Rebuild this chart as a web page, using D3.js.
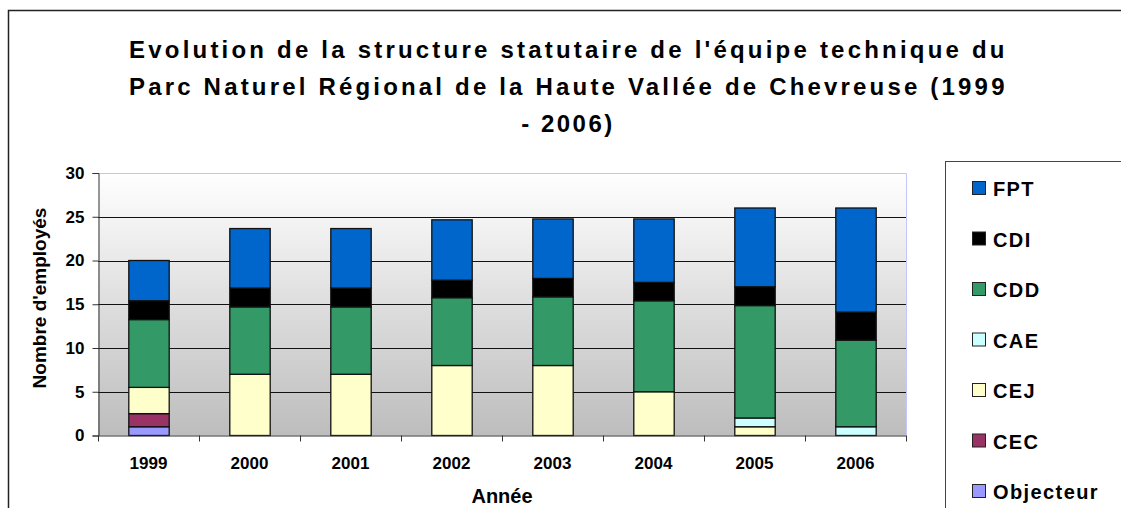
<!DOCTYPE html>
<html>
<head>
<meta charset="utf-8">
<script src="https://cdn.jsdelivr.net/npm/d3@7"></script>
<style>
  body { margin: 0; background: #fff; }
  svg { display: block; font-family: "Liberation Sans", Arial, sans-serif; font-weight: bold; }
</style>
</head>
<body>
<div id="graphe"></div>
<script>
// donnees
var annees = ["1999", "2000", "2001", "2002", "2003", "2004", "2005", "2006"];
var statuts = ["Objecteur", "CEC", "CEJ", "CAE", "CDD", "CDI", "FPT"];
var objecteur = [1, 0, 0, 0, 0, 0, 0, 0];
var cec = [1.5, 0, 0, 0, 0, 0, 0, 0];
var cej = [3, 7, 7, 8, 8, 5, 1, 0];
var cae = [0, 0, 0, 0, 0, 0, 1, 1];
var cdd = [7.75, 7.7, 7.7, 7.75, 7.85, 10.4, 12.85, 9.9];
var cdi = [2.15, 2.15, 2.15, 2, 2.1, 2.1, 2.15, 3.2];
var fpt = [4.6, 6.8, 6.8, 6.9, 6.8, 7.25, 9, 11.9];
var ticksY = [0, 5, 10, 15, 20, 25, 30];
var couleurs = ["#9999ff", "#993366", "#ffffcc", "#ccffff", "#339966", "#000000", "#0066cc"];

var largeur = 1121, hauteur = 508;
var marge = {haut: 173, gauche: 98, droite: 906, bas: 435.5};

var svg = d3.select("#graphe").append("svg").attr("width", largeur).attr("height", hauteur);

// cadre general
svg.append("rect").attr("x", 8.5).attr("y", 10.5).attr("width", 1130).attr("height", 520)
  .attr("fill", "#fff").attr("stroke", "#222").attr("stroke-width", 1.5);

// tableau pour d3.stack
var series = [objecteur, cec, cej, cae, cdd, cdi, fpt];
var table = annees.map(function(a, i) {
  var ligne = {annee: a};
  statuts.forEach(function(s, j) { ligne[s] = series[j][i]; });
  return ligne;
});
var pile = d3.stack().keys(statuts)(table);

var x = d3.scaleBand().domain(annees).range([marge.gauche, marge.droite]).paddingInner(0.6).paddingOuter(0.3);
var y = d3.scaleLinear().domain([0, 30]).range([marge.bas, marge.haut]);
var couleur = d3.scaleOrdinal().domain(statuts).range(couleurs);

// fond degrade
var defs = svg.append("defs");
var deg = defs.append("linearGradient").attr("id", "fond").attr("x1", 0).attr("y1", 0).attr("x2", 0).attr("y2", 1);
deg.append("stop").attr("offset", "0%").attr("stop-color", "#ffffff");
deg.append("stop").attr("offset", "100%").attr("stop-color", "#bdbdbd");

svg.append("rect").attr("x", marge.gauche).attr("y", marge.haut)
  .attr("width", marge.droite - marge.gauche).attr("height", marge.bas - marge.haut)
  .attr("fill", "url(#fond)");

// bord haut et droit (lavande)
svg.append("path")
  .attr("d", "M" + marge.gauche + "," + (marge.haut + 0.5) + "H" + (marge.droite + 0.5) + "V" + marge.bas)
  .attr("fill", "none").attr("stroke", "#c4c4ff").attr("stroke-width", 1);

// grille
svg.append("g").selectAll("line").data(ticksY.filter(function(t) { return t > 0 && t < 30; }))
  .enter().append("line")
  .attr("x1", marge.gauche).attr("x2", marge.droite)
  .attr("y1", function(d) { return Math.round(y(d)) + 0.5; })
  .attr("y2", function(d) { return Math.round(y(d)) + 0.5; })
  .attr("stroke", "#111").attr("stroke-width", 1);

// barres empilees
svg.append("g").selectAll("g").data(pile).enter().append("g")
  .attr("fill", function(d) { return couleur(d.key); })
  .selectAll("rect").data(function(d) { return d; }).enter().append("rect")
  .filter(function(d) { return d[1] - d[0] > 0; })
  .attr("x", function(d) { return x(d.data.annee) + 0.5; })
  .attr("width", x.bandwidth())
  .attr("y", function(d) { return y(d[1]); })
  .attr("height", function(d) { return y(d[0]) - y(d[1]); })
  .attr("stroke", "#111").attr("stroke-width", 1.3);

// axe Y
var axeY = d3.axisLeft(y).tickValues(ticksY).tickSize(6).tickPadding(8);
var gY = svg.append("g").attr("transform", "translate(" + (marge.gauche + 0.5) + ",0)").call(axeY);
gY.select(".domain").attr("stroke", "#333");
gY.selectAll(".tick line").attr("stroke", "#333");
gY.selectAll("text").attr("font-size", 17).attr("font-family", null).attr("fill", "#000");

// axe X : graduations aux limites des categories
var pas = x.step();
var bornes = annees.map(function(a) { return x(a) + x.bandwidth() / 2 - pas / 2; });
bornes.push(marge.droite);
svg.append("line").attr("x1", marge.gauche).attr("x2", marge.droite)
  .attr("y1", marge.bas + 0.5).attr("y2", marge.bas + 0.5).attr("stroke", "#333");
svg.append("g").selectAll("line").data(bornes).enter().append("line")
  .attr("x1", function(d) { return Math.round(d) + 0.5; }).attr("x2", function(d) { return Math.round(d) + 0.5; })
  .attr("y1", marge.bas).attr("y2", marge.bas + 6).attr("stroke", "#333");
svg.append("g").selectAll("text").data(annees).enter().append("text")
  .attr("x", function(d) { return x(d) + x.bandwidth() / 2; })
  .attr("y", 469).attr("text-anchor", "middle").attr("font-size", 17)
  .text(function(d) { return d; });

// titres des axes
svg.append("text").attr("x", (marge.gauche + marge.droite) / 2).attr("y", 503)
  .attr("text-anchor", "middle").attr("font-size", 20).text("Année");
svg.append("text").attr("transform", "translate(46,298) rotate(-90)")
  .attr("text-anchor", "middle").attr("font-size", 19).text("Nombre d'employés");

// titre
var lignesTitre = ["Evolution de la structure statutaire de l'équipe technique du",
  "Parc Naturel Régional de la Haute Vallée de Chevreuse (1999", "- 2006)"];
svg.append("g").selectAll("text").data(lignesTitre).enter().append("text")
  .attr("x", 568).attr("y", function(d, i) { return 58 + i * 37; })
  .attr("text-anchor", "middle").attr("font-size", 24)
  .style("letter-spacing", "2.5px").text(function(d) { return d; })
  .filter(function(d, i) { return i < 2; })
  .attr("textLength", 878).attr("lengthAdjust", "spacing");

// legende
svg.append("rect").attr("x", 945.5).attr("y", 161.5).attr("width", 200).attr("height", 400)
  .attr("fill", "#fff").attr("stroke", "#444").attr("stroke-width", 1);
var legende = svg.append("g").selectAll("g").data(statuts.slice().reverse()).enter().append("g")
  .attr("transform", function(d, i) { return "translate(972," + (188 + i * 50.5) + ")"; });
legende.append("rect").attr("x", 0.5).attr("y", -6.5).attr("width", 13).attr("height", 13)
  .attr("fill", function(d) { return couleur(d); }).attr("stroke", "#222");
legende.append("text").attr("x", 21).attr("y", 8).attr("font-size", 20)
  .style("letter-spacing", "1.4px").text(function(d) { return d; });
</script>
</body>
</html>
